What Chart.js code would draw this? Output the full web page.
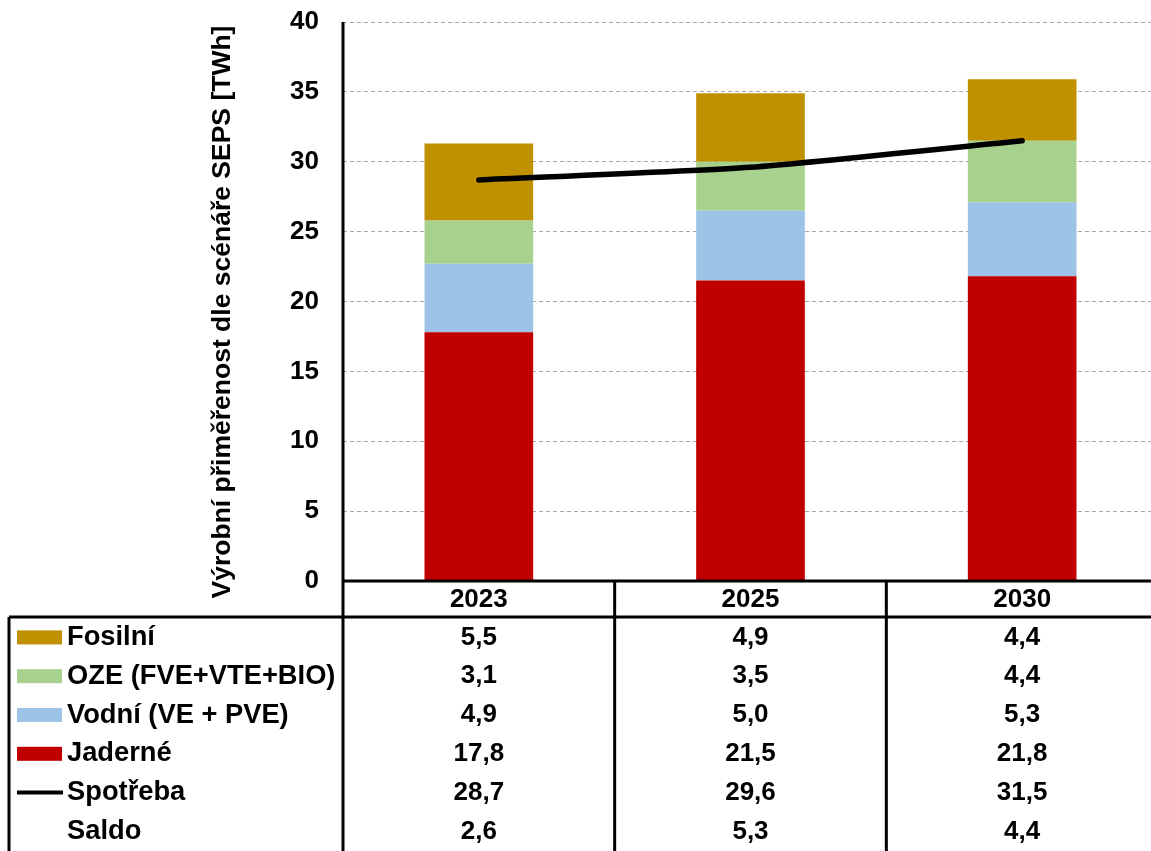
<!DOCTYPE html>
<html>
<head>
<meta charset="utf-8">
<script src="https://cdn.jsdelivr.net/npm/chart.js@4.4.1/dist/chart.umd.min.js"></script>
<style>
  html, body { margin:0; padding:0; overflow:hidden; background:#fff; }
  #wrap { width:1158px; height:851px; position:relative; }
</style>
</head>
<body>
<div id="wrap"><canvas id="c"></canvas></div>
<script>
const roky = ['2023', '2025', '2030'];
const fosilni = [5.5, 4.9, 4.4];
const oze = [3.1, 3.5, 4.4];
const vodni = [4.9, 5.0, 5.3];
const jaderne = [17.8, 21.5, 21.8];
const spotreba = [28.7, 29.6, 31.5];
const saldo = [2.6, 5.3, 4.4];
const yTicks = [0, 5, 10, 15, 20, 25, 30, 35, 40];

const FONT = "'Liberation Sans', Arial, sans-serif";
const fmt = (v)=> v.toFixed(1).replace('.', ',');

// tabulka pod grafem + popisek osy y
const tablePlugin = {
  id: 'tablePlugin',
  afterDraw(chart){
    const {ctx, chartArea:ca, scales:{x}} = chart;
    const W = chart.width, H = chart.height;
    const top = ca.bottom, head = top + 36, rowH = 38.8;
    ctx.save();
    ctx.fillStyle = '#000';

    // popisek osy y
    ctx.save();
    ctx.font = 'bold 26.5px ' + FONT;
    ctx.translate(223, 312);
    ctx.rotate(-Math.PI/2);
    ctx.textAlign = 'center'; ctx.textBaseline = 'middle';
    ctx.fillText('Výrobní přiměřenost dle scénáře SEPS [TWh]', 0, 0);
    ctx.restore();

    // čáry
    ctx.strokeStyle = '#000'; ctx.lineWidth = 3;
    ctx.beginPath();
    ctx.moveTo(ca.left, ca.top); ctx.lineTo(ca.left, H);
    ctx.moveTo(ca.left, top); ctx.lineTo(W, top);
    ctx.moveTo(9, head); ctx.lineTo(W, head);
    ctx.moveTo(9, head); ctx.lineTo(9, H);
    for (let i=0; i<roky.length-1; i++){
      const bx = (x.getPixelForValue(i) + x.getPixelForValue(i+1))/2;
      ctx.moveTo(bx, top); ctx.lineTo(bx, H);
    }
    ctx.stroke();

    ctx.font = 'bold 26px ' + FONT;
    ctx.textBaseline = 'middle';
    ctx.textAlign = 'center';
    roky.forEach((r,i)=> ctx.fillText(r, x.getPixelForValue(i), (top+head)/2 + 1));

    const ds = chart.data.datasets;
    const rows = [
      {label: ds[3].label, color: ds[3].backgroundColor, kind:'bar', data: ds[3].data},
      {label: ds[2].label, color: ds[2].backgroundColor, kind:'bar', data: ds[2].data},
      {label: ds[1].label, color: ds[1].backgroundColor, kind:'bar', data: ds[1].data},
      {label: ds[0].label, color: ds[0].backgroundColor, kind:'bar', data: ds[0].data},
      {label: ds[4].label, color: ds[4].borderColor, kind:'line', data: ds[4].data},
      {label: 'Saldo', kind:'none', data: saldo}
    ];
    rows.forEach((row, r)=>{
      const cy = head + rowH*(r+0.5) + 1;
      if (row.kind === 'bar'){
        ctx.fillStyle = row.color;
        ctx.fillRect(17, cy-7, 45, 14);
      } else if (row.kind === 'line'){
        ctx.strokeStyle = row.color; ctx.lineWidth = 4;
        ctx.beginPath(); ctx.moveTo(17, cy); ctx.lineTo(63, cy); ctx.stroke();
      }
      ctx.fillStyle = '#000';
      ctx.textAlign = 'left';
      ctx.font = 'bold 27.3px ' + FONT;
      ctx.fillText(row.label, 67, cy);
      ctx.textAlign = 'center';
      ctx.font = 'bold 26px ' + FONT;
      row.data.forEach((v,i)=> ctx.fillText(fmt(v), x.getPixelForValue(i), cy));
    });
    ctx.restore();
  }
};

const barDs = (label, data, color)=> ({
  type:'bar', label, data, backgroundColor: color, borderWidth:0,
  stack:'vyroba', order:1, barPercentage:.4, categoryPercentage:1
});

new Chart(document.getElementById('c').getContext('2d'), {
  data:{
    labels: roky,
    datasets:[
      barDs('Jaderné', jaderne, '#C00000'),
      barDs('Vodní (VE + PVE)', vodni, '#9DC3E6'),
      barDs('OZE (FVE+VTE+BIO)', oze, '#A9D18E'),
      barDs('Fosilní', fosilni, '#BF9000'),
      { type:'line', label:'Spotřeba', data: spotreba, borderColor:'#000', borderWidth:5.5,
        pointRadius:0, tension:.2, stack:'spotreba', order:0, borderCapStyle:'round' }
    ]
  },
  options:{
    responsive:true, maintainAspectRatio:false, animation:false,
    layout:{ padding:{ top:22, right:0, bottom:0, left:0 } },
    plugins:{ legend:{ display:false }, tooltip:{ enabled:false } },
    scales:{
      x:{
        stacked:true, offset:true,
        ticks:{ display:false }, grid:{ display:false }, border:{ display:false },
        afterFit(s){ s.height = 270; s.paddingLeft = 0; s.paddingRight = 0; }
      },
      y:{
        stacked:true, min:0, max:40,
        afterBuildTicks(s){ s.ticks = yTicks.map(v=>({value:v})); },
        ticks:{ color:'#000', padding:24, font:{ family:FONT, size:26, weight:'bold' } },
        grid:{ color:'#a6a6a6', lineWidth:1, drawTicks:false },
        border:{ display:false, dash:[4,3] },
        afterFit(s){ s.width = 343; s.paddingTop = 0; s.paddingBottom = 0; }
      }
    }
  },
  plugins:[tablePlugin]
});
</script>
</body>
</html>
